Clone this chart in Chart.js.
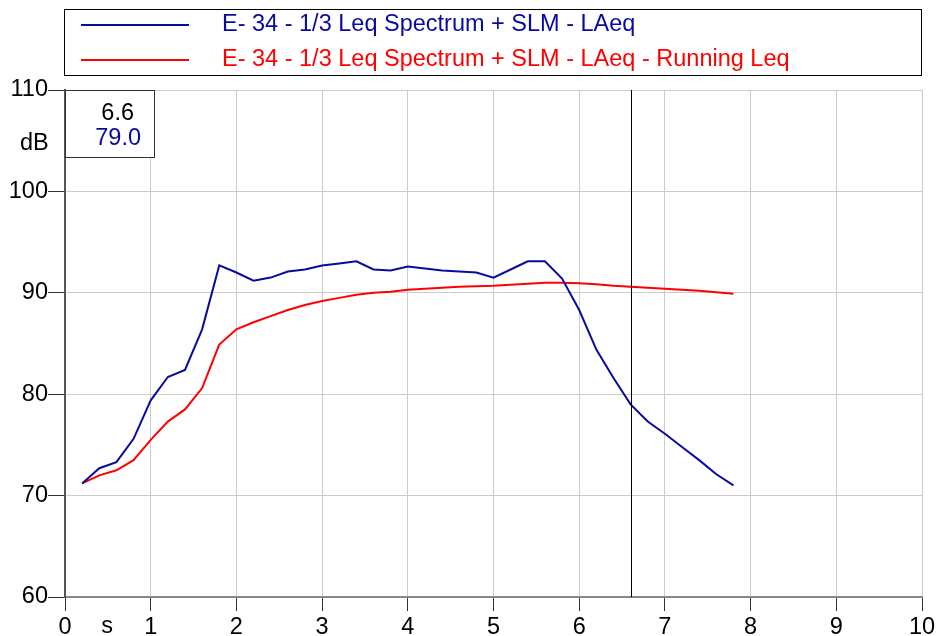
<!DOCTYPE html>
<html>
<head>
<meta charset="utf-8">
<script src="https://cdn.jsdelivr.net/npm/chart.js@4"></script>
<style>
  html, body { margin: 0; padding: 0; background: #fff; }
  #wrap { width: 938px; height: 636px; }
</style>
</head>
<body>
<div id="wrap"><canvas id="grafik" width="938" height="636"></canvas></div>
<script>
// --------------------------------------
// data
// --------------------------------------
const waktu = [0.2, 0.4, 0.6, 0.8, 1.0, 1.2, 1.4, 1.6, 1.8, 2.0,
  2.2, 2.4, 2.6, 2.8, 3.0, 3.2, 3.4, 3.6, 3.8, 4.0,
  4.2, 4.4, 4.6, 4.8, 5.0, 5.2, 5.4, 5.6, 5.8, 6.0,
  6.2, 6.4, 6.6, 6.8, 7.0, 7.2, 7.4, 7.6, 7.8];

const laeq = [71.2, 72.7, 73.3, 75.6, 79.4, 81.7, 82.4, 86.4, 92.7, 92.0,
  91.2, 91.5, 92.1, 92.3, 92.7, 92.9, 93.1, 92.3, 92.2, 92.6,
  92.4, 92.2, 92.1, 92.0, 91.5, 92.3, 93.1, 93.1, 91.4, 88.3,
  84.4, 81.6, 79.0, 77.3, 76.1, 74.8, 73.5, 72.1, 71.0];

const runningLeq = [71.2, 72.0, 72.5, 73.5, 75.5, 77.3, 78.5, 80.6, 84.9, 86.4,
  87.1, 87.7, 88.3, 88.8, 89.2, 89.5, 89.8, 90.0, 90.1, 90.3,
  90.4, 90.5, 90.6, 90.65, 90.7, 90.8, 90.9, 91.0, 91.0, 90.95,
  90.85, 90.7, 90.6, 90.5, 90.4, 90.3, 90.2, 90.05, 89.9];

const namaSeri = [
  "E- 34 - 1/3 Leq Spectrum + SLM - LAeq",
  "E- 34 - 1/3 Leq Spectrum + SLM - LAeq - Running Leq",
];
const warnaSeri = ["#0a0a9e", "#ff0000"];

const xTicks = [0, 1, 2, 3, 4, 5, 6, 7, 8, 9, 10];
const yTicks = [60, 70, 80, 90, 100, 110];

const kursorX = 6.6;
const kursorNilai = "79.0";
const satuanY = "dB";
const satuanX = "s";

const FONT = "Liberation Sans, Arial, sans-serif";
const UKURAN = 23.5;

// --------------------------------------
// plugin: kotak legenda, garis kursor, kotak nilai
// --------------------------------------
const pluginHiasan = {
  id: "hiasan",
  afterDatasetsDraw(chart) {
    const { ctx, chartArea, scales } = chart;
    const xs = scales.x;

    ctx.save();

    // garis kursor
    const cx = Math.round(xs.getPixelForValue(kursorX)) + 0.5;
    ctx.strokeStyle = "#000";
    ctx.lineWidth = 1;
    ctx.beginPath();
    ctx.moveTo(cx, chartArea.top);
    ctx.lineTo(cx, chartArea.bottom);
    ctx.stroke();

    // kotak nilai kursor
    ctx.fillStyle = "#fff";
    ctx.fillRect(chartArea.left, chartArea.top, 89, 67);
    ctx.strokeStyle = "#333";
    ctx.strokeRect(chartArea.left + 0.5, chartArea.top + 0.5, 89, 67);

    ctx.font = UKURAN + "px " + FONT;
    ctx.textAlign = "right";
    ctx.textBaseline = "middle";
    ctx.fillStyle = "#000";
    ctx.fillText(kursorX.toFixed(1), 134, 114);
    ctx.fillStyle = warnaSeri[0];
    ctx.fillText(kursorNilai, 141, 139);

    // label satuan
    ctx.fillStyle = "#000";
    ctx.textAlign = "left";
    ctx.fillText(satuanY, 20, 144);
    ctx.textAlign = "center";
    ctx.fillText(satuanX, 107, 627);

    // kotak legenda
    ctx.strokeStyle = "#000";
    ctx.lineWidth = 1;
    ctx.strokeRect(64.5, 9.5, 857, 66);
    namaSeri.forEach((nama, i) => {
      const y = 25 + i * 35;
      ctx.strokeStyle = warnaSeri[i];
      ctx.lineWidth = 2;
      ctx.beginPath();
      ctx.moveTo(81, y);
      ctx.lineTo(189, y);
      ctx.stroke();
      ctx.fillStyle = warnaSeri[i];
      ctx.textAlign = "left";
      ctx.fillText(nama, 222, y);
    });

    ctx.restore();
  },
};

// --------------------------------------
// grafik
// --------------------------------------
new Chart(document.getElementById("grafik"), {
  type: "line",
  data: {
    datasets: [
      {
        label: namaSeri[0],
        data: waktu.map((t, i) => ({ x: t, y: laeq[i] })),
        borderColor: warnaSeri[0],
        borderWidth: 2,
        pointRadius: 0,
        tension: 0,
      },
      {
        label: namaSeri[1],
        data: waktu.map((t, i) => ({ x: t, y: runningLeq[i] })),
        borderColor: warnaSeri[1],
        borderWidth: 2,
        pointRadius: 0,
        tension: 0,
      },
    ],
  },
  options: {
    responsive: false,
    animation: false,
    layout: { padding: { top: 90, right: 16, left: 0, bottom: 0 } },
    plugins: {
      legend: { display: false },
      tooltip: { enabled: false },
    },
    scales: {
      x: {
        type: "linear",
        min: 0,
        max: 10,
        afterBuildTicks: (s) => { s.ticks = xTicks.map((v) => ({ value: v })); },
        afterFit: (s) => { s.height = 39; },
        ticks: {
          color: "#000",
          font: { family: FONT, size: UKURAN },
          padding: 2,
          maxRotation: 0,
        },
        grid: { color: "#cccccc", tickColor: "#333", tickLength: 14 },
        border: { color: "#888", width: 2 },
      },
      y: {
        min: 60,
        max: 110,
        afterBuildTicks: (s) => { s.ticks = yTicks.map((v) => ({ value: v })); },
        afterFit: (s) => { s.width = 65; },
        ticks: {
          color: "#000",
          font: { family: FONT, size: UKURAN },
          padding: 0,
        },
        grid: { color: "#cccccc", tickColor: "#333", tickLength: 17 },
        border: { color: "#555", width: 2 },
      },
    },
  },
  plugins: [pluginHiasan],
});
</script>
</body>
</html>
